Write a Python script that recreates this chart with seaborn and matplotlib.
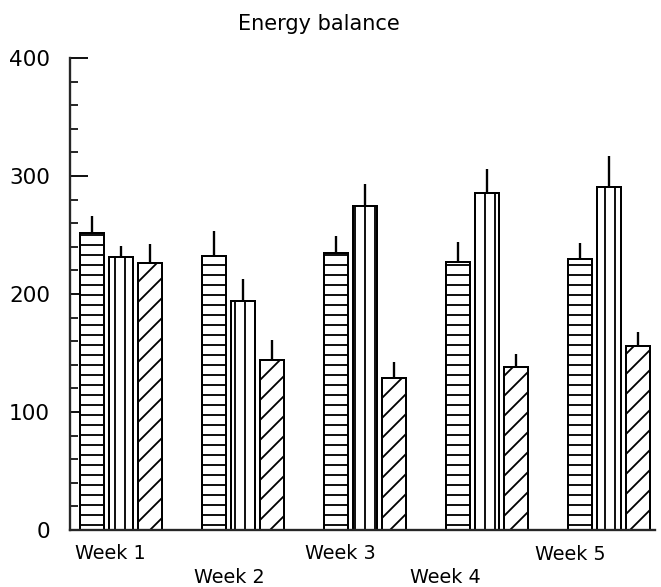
import numpy as np
import pandas as pd
import matplotlib
matplotlib.use("Agg")
import matplotlib.pyplot as plt
import seaborn as sns

# data
weeks = ["Week 1", "Week 2", "Week 3", "Week 4", "Week 5"]
groups = ["A", "B", "C"]
vals_a = [252, 232, 235, 227, 230]
vals_b = [231, 194, 275, 286, 291]
vals_c = [226, 144, 129, 138, 156]
err_a = [14, 21, 14, 17, 13]
err_b = [10, 19, 18, 20, 26]
err_c = [16, 17, 13, 11, 12]

df = pd.DataFrame({
    "week": weeks * 3,
    "group": np.repeat(groups, len(weeks)),
    "value": vals_a + vals_b + vals_c,
})

sns.set_style("ticks")
plt.rcParams["font.family"] = ["DejaVu Sans"]
plt.rcParams["text.color"] = "black"
plt.rcParams["ytick.color"] = "black"
plt.rcParams["ytick.labelcolor"] = "black"
plt.rcParams["hatch.linewidth"] = 1.1
plt.rcParams["hatch.color"] = "black"

dpi = 120
fig = plt.figure(figsize=(661 / dpi, 587 / dpi), dpi=dpi)
ax = fig.add_axes([70 / 661, 1 - 530 / 587, 585 / 661, 472 / 587])

sns.barplot(data=df, x="week", y="value", hue="group", order=weeks,
            hue_order=groups, palette=["white"] * 3, width=0.714, gap=0.2,
            edgecolor="black", linewidth=1.2, legend=False, ax=ax)

hatches = ["--", "||", "//"]
errs = [err_a, err_b, err_c]
for cont, h, e in zip(ax.containers, hatches, errs):
    xs, ys = [], []
    for bar in cont:
        bar.set_hatch(h)
        xs.append(bar.get_x() + bar.get_width() / 2)
        ys.append(bar.get_height())
    ax.errorbar(xs, ys, yerr=[np.zeros(len(e)), e], fmt="none",
                ecolor="black", elinewidth=1.4, capsize=0, zorder=1)

ax.set_ylim(0, 400)
ax.set_xlim(-0.418, 4.377)
ax.set_yticks([0, 100, 200, 300, 400])
ax.set_yticks(np.arange(0, 401, 20), minor=True)
ax.tick_params(axis="y", which="major", direction="in", length=11, width=1.1,
               labelsize=13, pad=12)
ax.tick_params(axis="y", which="minor", direction="in", length=5, width=1.0)
ax.set_xticks([])
ax.set_xlabel("")
ax.set_ylabel("")
sns.despine(ax=ax)
ax.spines["left"].set_linewidth(1.4)
ax.spines["bottom"].set_linewidth(1.4)

# staggered week labels
label_x = [-0.09, 0.89, 1.80, 2.66, 3.68]
label_y = [-0.049, -0.100, -0.049, -0.100, -0.051]
for w, lx, ly in zip(weeks, label_x, label_y):
    ax.text(lx, ly, w, transform=ax.get_xaxis_transform(), ha="center",
            va="center", fontsize=11.5)

fig.text(319 / 661, 1 - 24 / 587, "Energy balance", ha="center", va="center",
         fontsize=12.5)

fig.savefig("out.png", dpi=dpi)
